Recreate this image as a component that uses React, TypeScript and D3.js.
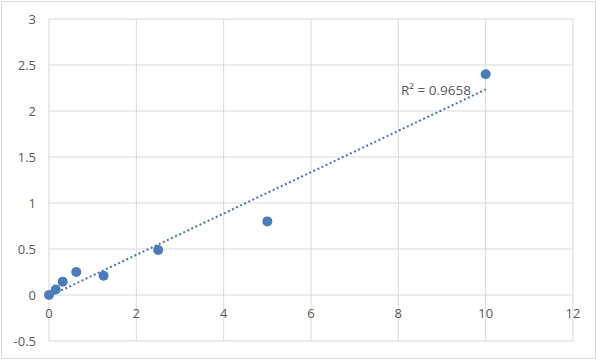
import React from "react";
import * as d3 from "d3";

const xValues = [0, 0.156, 0.3125, 0.625, 1.25, 2.5, 5, 10];
const yValues = [0, 0.06, 0.145, 0.25, 0.21, 0.49, 0.8, 2.4];
const xTicks = [0, 2, 4, 6, 8, 10, 12];
const yTicks = [-0.5, 0, 0.5, 1, 1.5, 2, 2.5, 3];
const r2Label = "R² = 0.9658";

const W = 600, H = 361;
const left = 49, right = 573, top = 19, bottom = 341;

export default function App() {
  const x = d3.scaleLinear().domain([0, 12]).range([left, right]);
  const y = d3.scaleLinear().domain([-0.5, 3]).range([bottom, top]);
  const n = xValues.length;
  const mx = d3.mean(xValues)!, my = d3.mean(yValues)!;
  let sxy = 0, sxx = 0;
  for (let i = 0; i < n; i++) {
    sxy += (xValues[i] - mx) * (yValues[i] - my);
    sxx += (xValues[i] - mx) ** 2;
  }
  const slope = sxy / sxx, intercept = my - slope * mx;
  const x0 = d3.min(xValues)!, x1 = d3.max(xValues)!;
  const font = "'Open Sans', 'Liberation Sans', sans-serif";
  return (
    <svg width={W} height={H} style={{ position: "absolute", left: 0, top: 0 }}>
      <rect x={0} y={0} width={W} height={H} fill="white" />
      <rect x={1.5} y={1.5} width={594} height={357} fill="none" stroke="#d9d9d9" strokeWidth={1} />
      {xTicks.map((t) => (
        <line key={"gx" + t} x1={x(t)} x2={x(t)} y1={top} y2={bottom} stroke="#d9d9d9" strokeWidth={1} />
      ))}
      {yTicks.map((t) => (
        <line key={"gy" + t} x1={left} x2={right} y1={y(t)} y2={y(t)} stroke="#d9d9d9" strokeWidth={1} />
      ))}
      {yTicks.map((t) => (
        <text key={"ty" + t} x={36} y={y(t)} dy="0.35em" textAnchor="end" fontSize={13} fill="#595959" fontFamily={font}>
          {t}
        </text>
      ))}
      {xTicks.map((t) => (
        <text key={"tx" + t} x={x(t)} y={318} textAnchor="middle" fontSize={13} fill="#595959" fontFamily={font}>
          {t}
        </text>
      ))}
      <line
        x1={x(x0)} y1={y(intercept + slope * x0)} x2={x(x1)} y2={y(intercept + slope * x1)}
        stroke="#4472c4" strokeWidth={2} strokeDasharray="2,2.5"
      />
      {xValues.map((v, i) => (
        <circle key={"p" + i} cx={x(v)} cy={y(yValues[i])} r={5} fill="#4a7ebb" />
      ))}
      <text x={401} y={95} fontSize={13.5} fill="#595959" fontFamily={font}>{r2Label}</text>
    </svg>
  );
}
